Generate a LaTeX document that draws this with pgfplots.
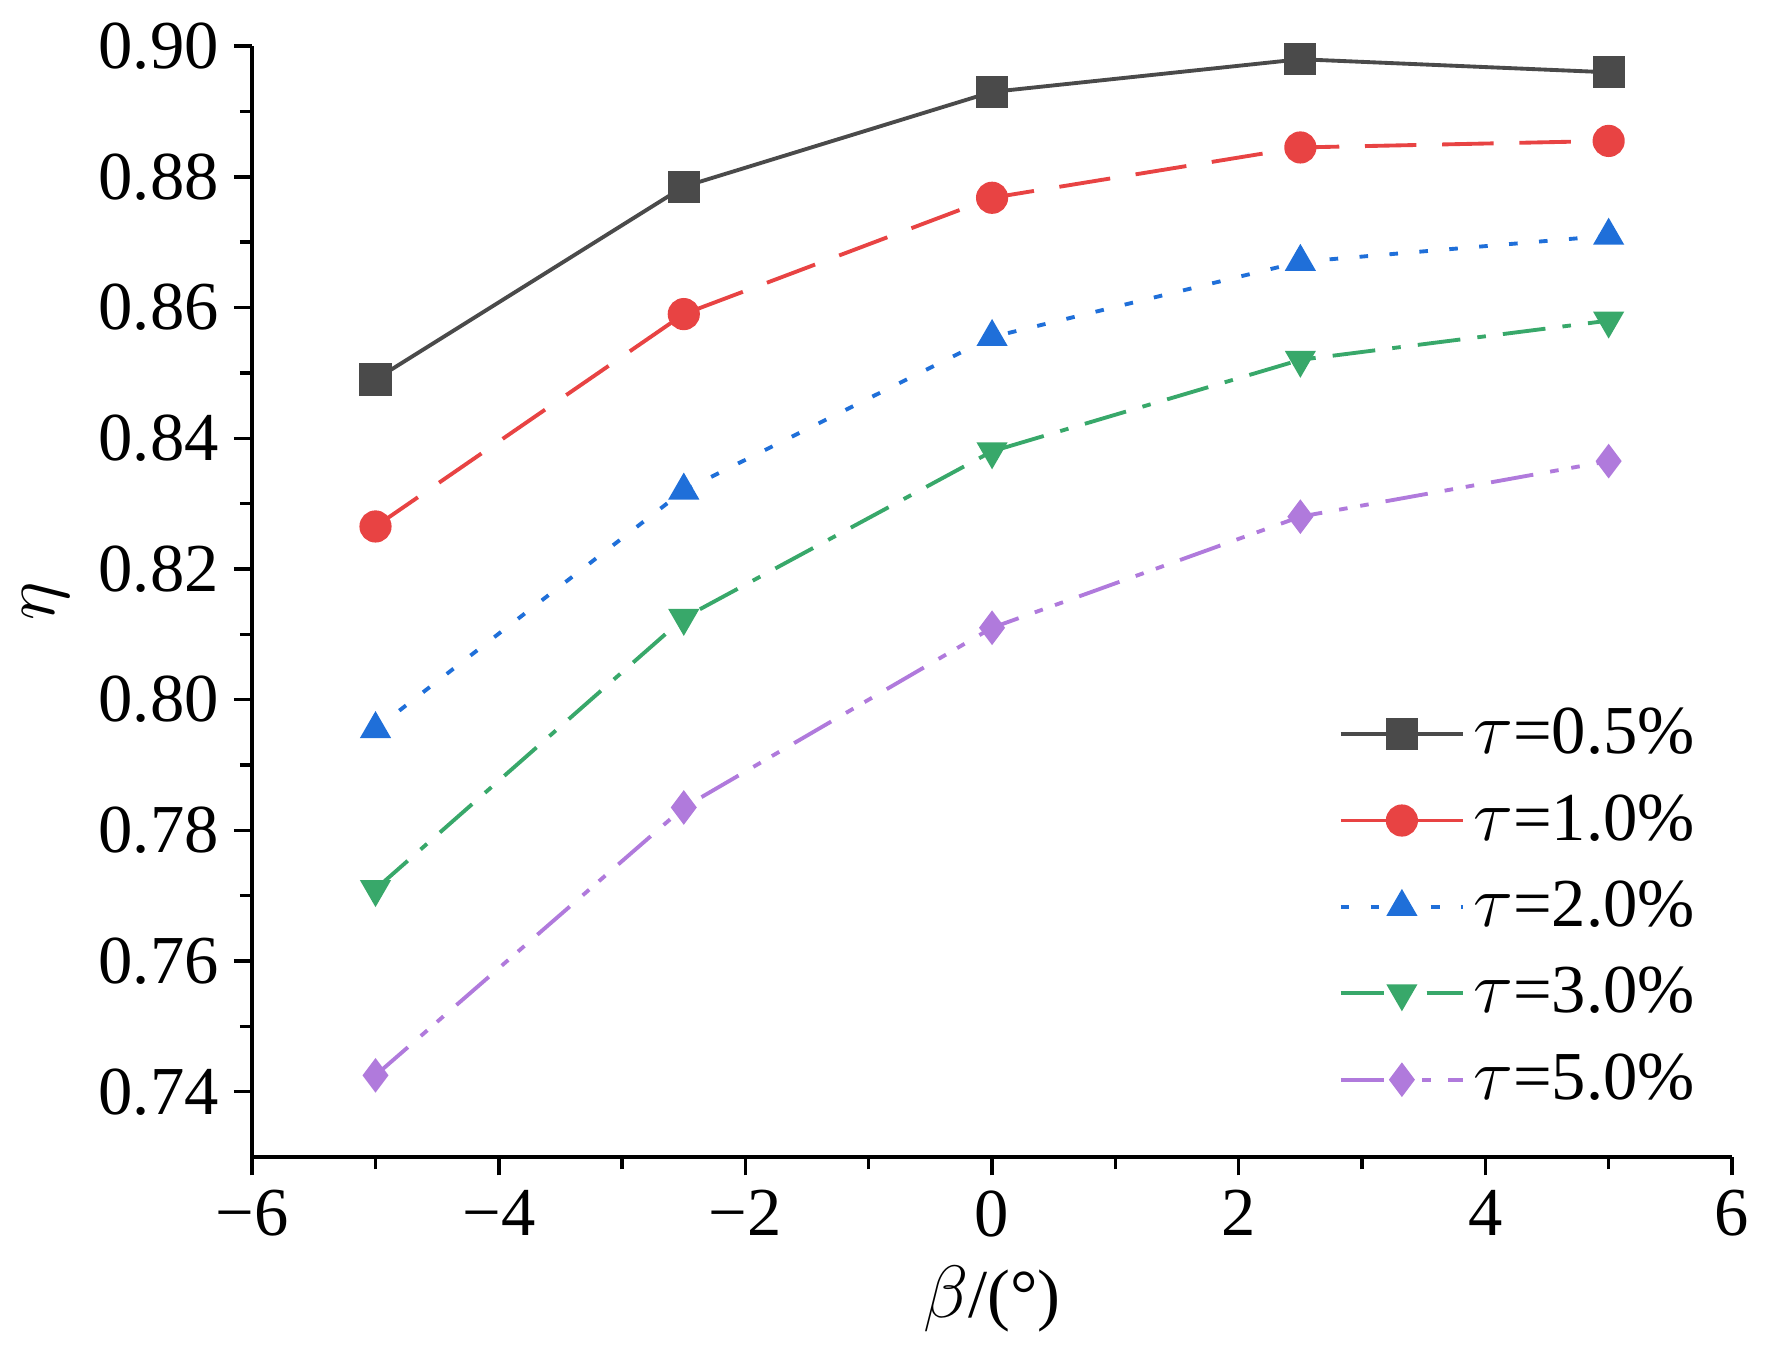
\documentclass[border=2pt]{standalone}
\usepackage{pgfplots}
\pgfplotsset{compat=1.18}
\usepackage{fontspec}
\setmainfont{Liberation Serif}
\definecolor{cA}{HTML}{4A4A4A}
\definecolor{cB}{HTML}{E84343}
\definecolor{cC}{HTML}{1F6FD9}
\definecolor{cD}{HTML}{38A86A}
\definecolor{cE}{HTML}{B07ADC}
\begin{document}
\begin{tikzpicture}
\begin{axis}[
  width=345pt, height=259pt, scale only axis,
  xmin=-6, xmax=6, ymin=0.73, ymax=0.90,
  axis x line*=bottom, axis y line*=left,
  xtick={-6,-4,...,6}, xticklabels={−6,−4,−2,0,2,4,6},
  ytick={0.74,0.76,...,0.90},
  minor x tick num=1, minor y tick num=1,
  tick align=outside, tick style={black, line width=0.8pt},
  axis line style={line width=0.9pt},
  /pgf/number format/assume math mode=true,
  yticklabel style={/pgf/number format/fixed,/pgf/number format/fixed zerofill,/pgf/number format/precision=2},
  ticklabel style={font=\fontsize{16}{19}\selectfont},
  label style={font=\fontsize{16}{19}\selectfont},
  xlabel={$\beta$/(°)}, ylabel={$\eta$},
  legend style={draw=none, fill=none, at={(0.99,0.03)}, anchor=south east, font=\fontsize{16}{19}\selectfont, row sep=4pt},
  legend cell align=left,
  legend image code/.code={\draw[#1] (0cm,0cm) -- (1.0cm,0cm); \draw[#1, mark repeat=2, mark phase=2] plot coordinates {(0cm,0cm)(0.5cm,0cm)(1.0cm,0cm)};},
  every axis plot/.append style={line width=0.9pt, mark size=3.3pt},
]
\addplot[cA, mark=square*] coordinates {(-5,0.849)(-2.5,0.8785)(0,0.893)(2.5,0.898)(5,0.896)};
\addlegendentry{$\tau$=0.5\%}
\addplot[cB, dash pattern=on 12pt off 6pt, mark=*, mark options={solid}] coordinates {(-5,0.8265)(-2.5,0.859)(0,0.8768)(2.5,0.8845)(5,0.8855)};
\addlegendentry{$\tau$=1.0\%}
\addplot[cC, dash pattern=on 2pt off 5pt, mark=triangle*, mark options={solid}] coordinates {(-5,0.7955)(-2.5,0.832)(0,0.8555)(2.5,0.867)(5,0.871)};
\addlegendentry{$\tau$=2.0\%}
\addplot[cD, dash pattern=on 10pt off 4pt on 2pt off 4pt, mark=triangle*, mark options={solid, rotate=180}] coordinates {(-5,0.771)(-2.5,0.8125)(0,0.838)(2.5,0.852)(5,0.858)};
\addlegendentry{$\tau$=3.0\%}
\addplot[cE, dash pattern=on 10pt off 4pt on 2pt off 3pt on 2pt off 4pt, mark=diamond*, mark options={solid}] coordinates {(-5,0.7425)(-2.5,0.7835)(0,0.811)(2.5,0.828)(5,0.8365)};
\addlegendentry{$\tau$=5.0\%}
\end{axis}
\end{tikzpicture}
\end{document}
